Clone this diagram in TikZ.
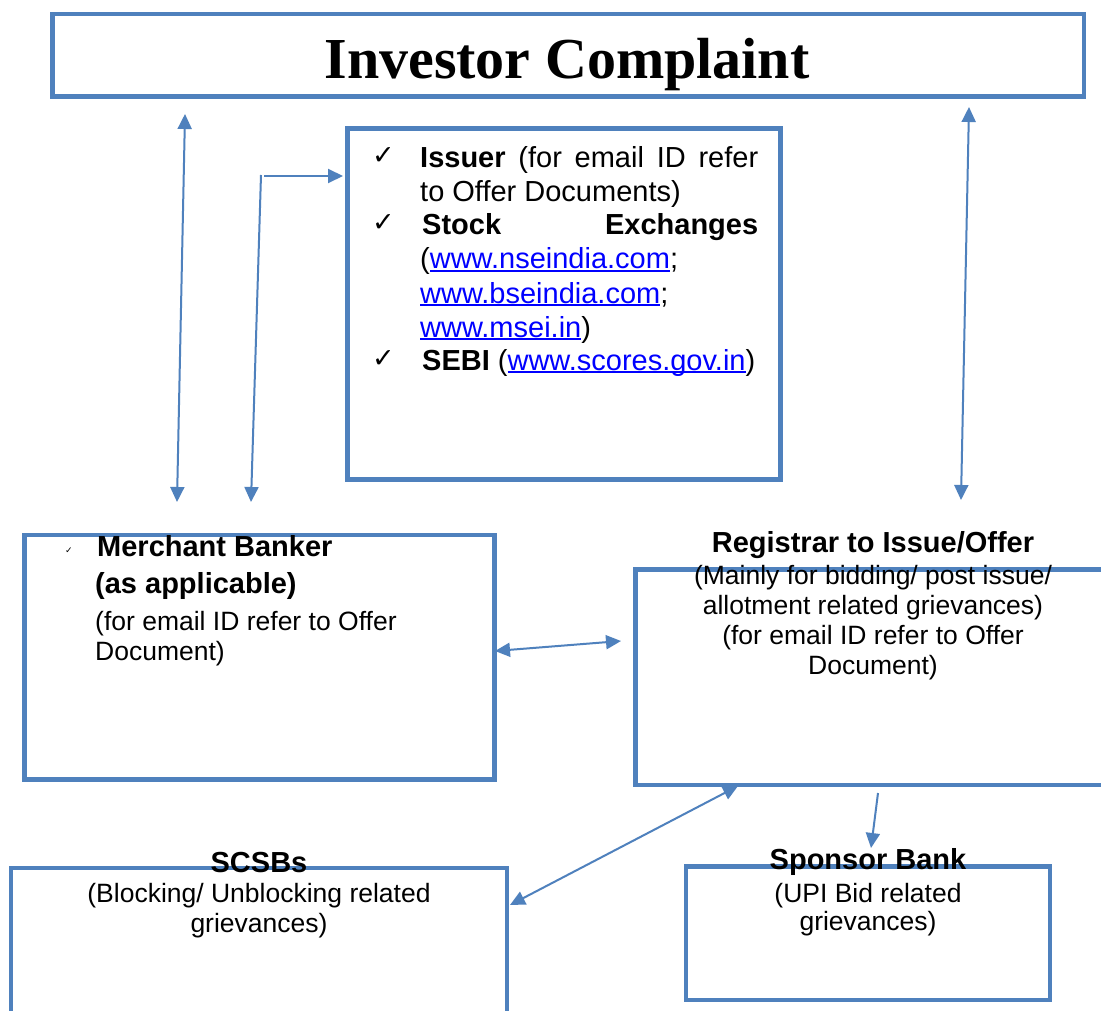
\documentclass[tikz,border=0pt]{standalone}
\usepackage{fontspec}
\setmainfont{Liberation Sans}
\newfontfamily\titlefont{Liberation Serif}
\newfontfamily\symfont{DejaVu Sans}
\usetikzlibrary{arrows.meta}
\definecolor{boxblue}{HTML}{4F81BD}
\definecolor{linkblue}{HTML}{0000FF}
\newcommand\lnk[1]{{\color{linkblue}\setbox0\hbox{#1}\rlap{\rule[-3pt]{\wd0}{1.8pt}}\box0}}
\newcommand\bigsz{\fontsize{29}{34}\selectfont}
\newcommand\regsz{\fontsize{26.5}{30}\selectfont}
\tikzset{
  box/.style={draw=boxblue, line width=4.5pt, anchor=north west, inner sep=0pt, outer sep=0pt},
  conn/.style={draw=boxblue, line width=2pt, -{Triangle[length=15pt,width=14pt]}},
  dconn/.style={draw=boxblue, line width=2pt, {Triangle[length=15pt,width=14pt]}-{Triangle[length=15pt,width=14pt]}},
  txt/.style={inner sep=0pt, anchor=base west},
  ctxt/.style={inner sep=0pt, anchor=base},
  chk/.style={inner sep=0pt, anchor=base west, font=\symfont\fontsize{27}{27}\selectfont}
}
\begin{document}
\begin{tikzpicture}[x=1pt,y=-1pt]
\useasboundingbox (0,0) rectangle (1101,1011);
\clip (0,0) rectangle (1101,1011);
\fill[white] (0,0) rectangle (1101,1011);

% boxes (positions are line centres)
\node[box, minimum width=1031.5pt, minimum height=82.5pt] (title) at (52.5,14) {};
\node[box, minimum width=433pt, minimum height=351pt] (issuer) at (347.5,128.5) {};
\node[box, minimum width=469.8pt, minimum height=244.5pt] (merchant) at (24.7,535) {};
\node[box, minimum width=480pt, minimum height=215.3pt] (registrar) at (635.6,569.7) {};
\node[box, minimum width=496pt, minimum height=160pt] (scsb) at (11,868) {};
\node[box, minimum width=364pt, minimum height=133.7pt] (sponsor) at (686,866.3) {};

% title
\node[ctxt, font=\titlefont\bfseries\fontsize{58}{60}\selectfont] (ttl) at (567,79) {Investor Complaint};

% issuer box
\node[chk] (c1) at (372,165) {✓};
\node[chk] (c2) at (372,232) {✓};
\node[chk] (c3) at (372,367) {✓};
\node[txt, font=\bigsz] (i1) at (420,168) {\makebox[338pt][s]{\textbf{Issuer} (for email ID refer}};
\node[txt, font=\bigsz] (i2) at (420,202) {to Offer Documents)};
\node[txt, font=\bigsz] (i3) at (422,235) {\makebox[336pt][s]{\textbf{Stock}\hfill\textbf{Exchanges}}};
\node[txt, font=\bigsz] (i4) at (420,269) {(\lnk{www.nseindia.com};};
\node[txt, font=\bigsz] (i5) at (420,303) {\lnk{www.bseindia.com};};
\node[txt, font=\bigsz] (i6) at (420,337) {\lnk{www.msei.in})};
\node[txt, font=\bigsz] (i7) at (422,370) {\textbf{SEBI} (\lnk{www.scores.gov.in})};

% merchant banker
\node[txt, font=\symfont\fontsize{9}{9}\selectfont] (mc) at (65,553) {✓};
\node[txt, font=\bigsz\bfseries] (m1) at (97,556) {Merchant Banker};
\node[txt, font=\bigsz\bfseries] (m2) at (95,593) {(as applicable)};
\node[txt, font=\regsz] (m3) at (95,630) {(for email ID refer to Offer};
\node[txt, font=\regsz] (m4) at (95,660) {Document)};

% registrar
\node[ctxt, font=\bigsz\bfseries] (r1) at (873,552) {Registrar to Issue/Offer};
\node[ctxt, font=\regsz] (r2) at (873,584) {(Mainly for bidding/ post issue/};
\node[ctxt, font=\regsz] (r3) at (873,614) {allotment related grievances)};
\node[ctxt, font=\regsz] (r4) at (873,644) {(for email ID refer to Offer};
\node[ctxt, font=\regsz] (r5) at (873,674) {Document)};

% SCSBs
\node[ctxt, font=\bigsz\bfseries] (s1) at (259,872) {SCSBs};
\node[ctxt, font=\regsz] (s2) at (259,902) {(Blocking/ Unblocking related};
\node[ctxt, font=\regsz] (s3) at (259,932) {grievances)};

% Sponsor
\node[ctxt, font=\bigsz\bfseries] (p1) at (868,869) {Sponsor Bank};
\node[ctxt, font=\regsz] (p2) at (868,902) {(UPI Bid related};
\node[ctxt, font=\regsz] (p3) at (868,930) {grievances)};

% connector end points
\coordinate (a1b) at (177,502);
\coordinate (a1t) at (185,114);
\coordinate (a2t) at (261,175);
\coordinate (a2b) at (251,502);
\coordinate (a3s) at (264,176);
\coordinate (a3e) at (343,176);
\coordinate (a4t) at (969,107);
\coordinate (a4b) at (961,500);
\coordinate (a5l) at (495,651);
\coordinate (a5r) at (621,641);
\coordinate (a6t) at (738,786);
\coordinate (a6b) at (510,905);
\coordinate (a7t) at (878,793);
\coordinate (a7b) at (871,848);

\draw[dconn] (a1b) -- (a1t);
\draw[conn] (a2t) -- (a2b);
\draw[conn] (a3s) -- (a3e);
\draw[dconn] (a4b) -- (a4t);
\draw[dconn] (a5l) -- (a5r);
\draw[dconn] (a6t) -- (a6b);
\draw[conn] (a7t) -- (a7b);
\end{tikzpicture}
\end{document}
